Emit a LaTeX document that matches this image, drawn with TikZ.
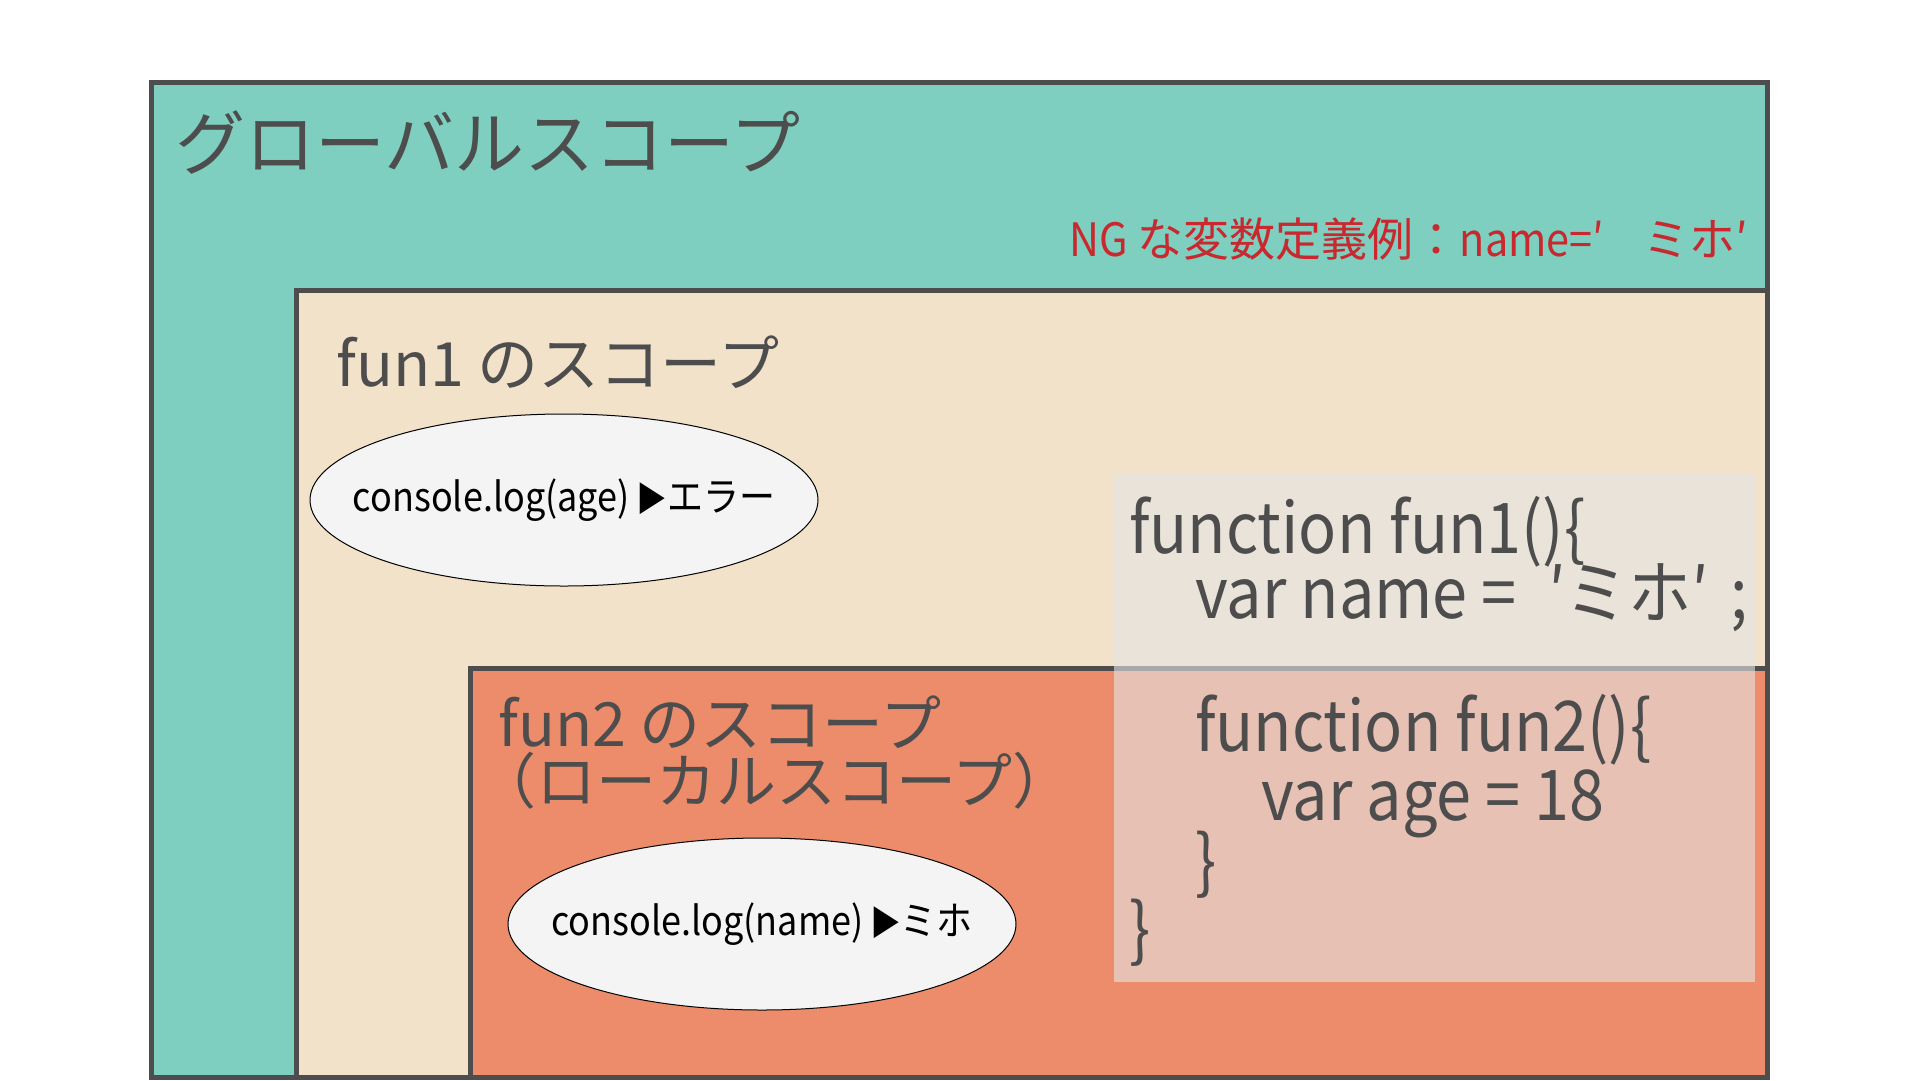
\documentclass[tikz,border=0pt]{standalone}
\usepackage{fontspec}
\setmainfont{Noto Sans CJK JP}
\newfontfamily\lc[FakeStretch=0.9]{Noto Sans CJK JP}
\usetikzlibrary{shapes.geometric}
\definecolor{tealbg}{HTML}{7ECFC0}
\definecolor{beigebg}{HTML}{F2E2C9}
\definecolor{orangebg}{HTML}{EC8C6A}
\definecolor{bordergray}{HTML}{4D4D4D}
\definecolor{textgray}{HTML}{4D4D4D}
\definecolor{bubblefill}{HTML}{F4F4F4}
\definecolor{codefill}{HTML}{E5E5E5}
\definecolor{ngred}{HTML}{C8282E}
\begin{document}
\begin{tikzpicture}[x=1pt,y=-1pt,
  scopebox/.style={draw=bordergray, line width=5pt, anchor=north west, inner sep=0pt, outer sep=0pt},
  title/.style={anchor=west, inner sep=0pt, text=textgray},
  bubble/.style={ellipse, draw=black, line width=1pt, fill=bubblefill, minimum width=508pt, minimum height=172pt, inner sep=0pt},
  bubbletext/.style={inner sep=0pt, text=black, font=\lc\fontsize{40}{48}\selectfont},
  codeline/.style={anchor=base west, inner sep=0pt, text=textgray, font=\lc\fontsize{70}{84}\selectfont}]
\useasboundingbox (0,0) rectangle (1920,1080);
\fill[white] (0,0) rectangle (1920,1080);
\node[scopebox, fill=tealbg, minimum width=1616pt, minimum height=995pt] (global) at (151,82) {};
\node[scopebox, fill=beigebg, minimum width=1471pt, minimum height=787pt] (fun1) at (296,290) {};
\node[scopebox, fill=orangebg, minimum width=1297pt, minimum height=409pt] (fun2) at (470,668) {};
\node[fill=codefill, fill opacity=0.6, anchor=north west, minimum width=641pt, minimum height=509pt, inner sep=0pt] (codebg) at (1114,473) {};

\node[title, font=\fontsize{70}{84}\selectfont] (gtitle) at (175,143) {グローバルスコープ};
\node[anchor=west, inner sep=0pt, text=ngred, font=\fontsize{46}{55}\selectfont] (ng) at (1069,239) {{\lc NG} な変数定義例：{\lc name=′}\hspace{0.85em}ミホ′};
\node[title, font=\fontsize{61}{72}\selectfont] (f1title) at (336,362) {fun1 のスコープ};
\node[title, font=\fontsize{61}{72}\selectfont] (f2title) at (498,722) {fun2 のスコープ};
\node[title, font=\fontsize{60}{72}\selectfont] (f2sub) at (476,781) {（ローカルスコープ）};

\node[bubble] (log1) at (564,500) {};
\node[bubbletext] (log1t) at (log1.center) {console.log(age)\,{\fontsize{34}{40}\selectfont ▶}エラー};
\node[bubble] (log2) at (762,924) {};
\node[bubbletext] (log2t) at (log2.center) {console.log(name)\,{\fontsize{34}{40}\selectfont ▶}ミホ};

\node[codeline] (c1) at (1129,553) {function fun1()\{};
\node[codeline] (c2) at (1195,618) {var name =\hspace{0.45em}′ミホ′\hspace{0.3em};};
\node[codeline] (c3) at (1195,751) {function fun2()\{};
\node[codeline] (c4) at (1261,820) {var age = 18};
\node[codeline] (c5) at (1195,886) {\}};
\node[codeline] (c6) at (1129,954) {\}};
\end{tikzpicture}
\end{document}
